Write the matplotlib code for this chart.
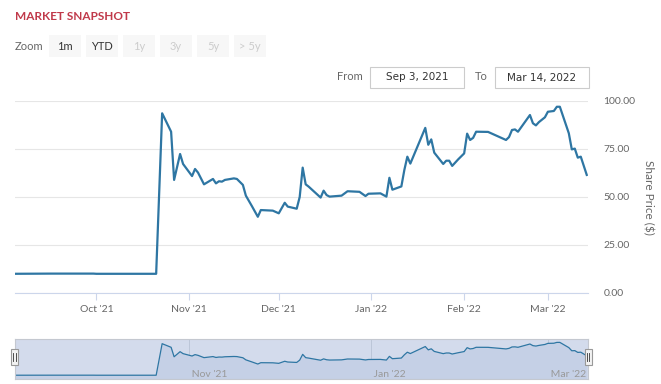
import numpy as np
import pandas as pd
import matplotlib
matplotlib.use("Agg")
import matplotlib.pyplot as plt
import matplotlib.dates as mdates
from matplotlib.patches import Rectangle

W, H = 661, 384

# share price
dates = ["2021-09-03", "2021-09-16", "2021-09-30", "2021-10-01", "2021-10-21",
         "2021-10-23", "2021-10-26", "2021-10-27", "2021-10-29", "2021-10-30",
         "2021-11-02", "2021-11-03", "2021-11-04", "2021-11-06", "2021-11-09",
         "2021-11-10", "2021-11-11", "2021-11-12", "2021-11-13", "2021-11-16",
         "2021-11-17", "2021-11-19", "2021-11-20", "2021-11-22", "2021-11-24",
         "2021-11-25", "2021-11-29", "2021-12-01", "2021-12-03", "2021-12-04",
         "2021-12-07", "2021-12-08", "2021-12-09", "2021-12-10", "2021-12-11",
         "2021-12-15", "2021-12-16", "2021-12-17", "2021-12-18", "2021-12-22",
         "2021-12-24", "2021-12-28", "2021-12-30", "2021-12-31", "2022-01-04",
         "2022-01-06", "2022-01-07", "2022-01-08", "2022-01-11", "2022-01-12",
         "2022-01-13", "2022-01-14", "2022-01-19", "2022-01-20", "2022-01-21",
         "2022-01-22", "2022-01-25", "2022-01-26", "2022-01-27", "2022-01-28",
         "2022-01-30", "2022-02-01", "2022-02-02", "2022-02-03", "2022-02-04",
         "2022-02-05", "2022-02-09", "2022-02-15", "2022-02-16", "2022-02-17",
         "2022-02-18", "2022-02-19", "2022-02-23", "2022-02-24", "2022-02-25",
         "2022-02-26", "2022-02-28", "2022-03-01", "2022-03-03", "2022-03-04",
         "2022-03-05", "2022-03-08", "2022-03-09", "2022-03-10", "2022-03-11",
         "2022-03-12", "2022-03-14"]
prices = [10.0, 10.1, 10.1, 10.0, 10.0,
          93.6, 84.0, 58.9, 72.4, 67.2,
          60.9, 64.6, 62.7, 56.6, 59.4,
          57.1, 58.2, 58.0, 58.9, 59.7,
          59.4, 56.3, 50.7, 45.3, 39.7,
          43.2, 42.9, 41.5, 47.0, 45.0,
          43.9, 50.0, 65.3, 56.6, 55.4,
          49.7, 53.3, 51.0, 50.2, 50.7,
          53.0, 52.7, 50.5, 51.7, 51.9,
          50.2, 60.0, 53.8, 55.5, 64.1,
          71.0, 67.4, 86.0, 77.2, 80.0,
          73.1, 67.2, 68.9, 68.9, 66.2,
          69.6, 72.7, 83.0, 79.7, 80.8,
          84.0, 83.9, 79.7, 81.2, 84.9,
          85.2, 84.0, 92.7, 88.4, 87.3,
          89.0, 91.5, 94.4, 94.8, 97.0,
          97.0, 83.2, 74.8, 75.2, 70.5,
          71.0, 61.5]
y_ticks = [0, 25, 50, 75, 100]
buttons = ["1m", "YTD", "1y", "3y", "5y", "> 5y"]
date_from = "Sep 3, 2021"
date_to = "Mar 14, 2022"

x = pd.to_datetime(dates)
xmin = pd.Timestamp("2021-09-03 19:00")
xmax = pd.Timestamp("2022-03-14 10:00")

plt.rcParams["font.family"] = ["Lato", "DejaVu Sans"]
LINE = "#2e76a3"


def rect(x0, y0, x1, y1):
    return [x0 / W, 1 - y1 / H, (x1 - x0) / W, (y1 - y0) / H]


def fx(px):
    return px / W


def fy(py):
    return 1 - py / H


fig = plt.figure(figsize=(W / 100, H / 100), dpi=100)

# header
fig.text(fx(15), fy(16), "MARKET SNAPSHOT", color="#c0394a", fontsize=8.5,
         fontweight="bold", va="center", ha="left")
fig.text(fx(15), fy(46), "Zoom", color="#666666", fontsize=8, va="center")
bx = [49, 86, 123, 160, 197, 234]
for i, (lab, b) in enumerate(zip(buttons, bx)):
    fig.add_artist(Rectangle((fx(b), fy(57)), 32 / W, 22 / H, transform=fig.transFigure,
                             facecolor="#f7f7f7", edgecolor="none"))
    fig.text(fx(b + 16), fy(46), lab, fontsize=8, ha="center", va="center",
             color="#333333" if i < 2 else "#cccccc")

# date range inputs
fig.text(fx(337), fy(77), "From", color="#666666", fontsize=8, va="center")
fig.text(fx(475), fy(77), "To", color="#666666", fontsize=8, va="center")
for x0, x1, txt in [(370, 464, date_from), (495, 589, date_to)]:
    fig.add_artist(Rectangle((fx(x0), fy(88)), (x1 - x0) / W, 21 / H, transform=fig.transFigure,
                             facecolor="white", edgecolor="#cccccc", linewidth=0.8))
    fig.text(fx((x0 + x1) / 2), fy(77.5), txt, fontsize=7.5, ha="center", va="center",
             color="#333333", family=["DejaVu Sans"])

# main chart
ax = fig.add_axes(rect(15, 101, 588, 293))
ax.plot(x, prices, color=LINE, linewidth=1.6, solid_joinstyle="round")
ax.set_xlim(xmin, xmax)
ax.set_ylim(0, 100)
ax.set_yticks(y_ticks)
ax.yaxis.tick_right()
ax.yaxis.set_major_formatter(matplotlib.ticker.FormatStrFormatter("%.2f"))
ax.tick_params(axis="y", length=0, pad=11, labelsize=7.5, labelcolor="#666666")
ax.xaxis.set_major_locator(mdates.MonthLocator())
ax.xaxis.set_major_formatter(mdates.DateFormatter("%b '%y"))
ax.tick_params(axis="x", length=5, width=0.8, color="#ccd6eb", pad=4,
               labelsize=7.5, labelcolor="#666666")
ax.grid(axis="y", color="#e6e6e6", linewidth=0.8)
ax.set_axisbelow(True)
for s in ["top", "left", "right"]:
    ax.spines[s].set_visible(False)
ax.spines["bottom"].set_color("#ccd6eb")
ax.spines["bottom"].set_linewidth(0.8)
fig.text(fx(648), fy(197), "Share Price ($)", rotation=270, fontsize=8.5,
         color="#666666", ha="center", va="center")

# navigator
nav = fig.add_axes(rect(15, 339, 588, 379))
nav.set_facecolor("#d3dbec")
nav.plot(x, prices, color=LINE, linewidth=0.9)
nav.fill_between(x, prices, 0, color="#c5d0e6", linewidth=0)
nav.set_xlim(xmin, xmax)
nav.set_ylim(0, 106)
nav.xaxis.set_major_locator(mdates.MonthLocator(bymonth=(1, 3, 5, 7, 9, 11)))
nav.grid(axis="x", color="#bcc6d8", linewidth=0.7)
nav.set_axisbelow(True)
nav.set_xticklabels([])
nav.set_yticks([])
nav.tick_params(axis="x", length=0)
for t in nav.get_xticks():
    nav.text(t, 12, " " + mdates.num2date(t).strftime("%b '%y"), fontsize=7.5,
             color="#999999", ha="left", va="center")
for s in nav.spines.values():
    s.set_color("#c4c8d0")
    s.set_linewidth(0.8)
for hx in [14.5, 588]:
    fig.add_artist(Rectangle((fx(hx - 3.5), fy(365)), 7 / W, 16 / H, transform=fig.transFigure,
                             facecolor="#f2f2f2", edgecolor="#999999", linewidth=0.8, zorder=5))
    for dx in (-1, 1):
        fig.add_artist(plt.Line2D([fx(hx + dx), fx(hx + dx)], [fy(361), fy(353)],
                                  transform=fig.transFigure, color="#333333",
                                  linewidth=0.6, zorder=6))

fig.savefig("out.png", dpi=100)
